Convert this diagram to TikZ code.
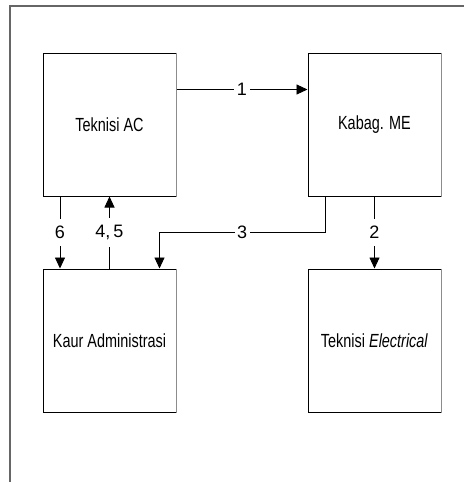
\documentclass[tikz,border=0pt]{standalone}
\usepackage{fontspec}
\setmainfont{Liberation Sans}
\newfontfamily\boxfont[FakeStretch=0.76]{Liberation Sans}
\usetikzlibrary{arrows.meta}
\tikzset{
  box/.style={draw=black, line width=1pt, minimum width=133pt, minimum height=143pt, inner sep=0pt,
    font=\boxfont\fontsize{19}{22}\selectfont},
  arr/.style={draw=black, line width=0.9pt, -{Triangle[length=11pt,width=10pt]}},
  lbl/.style={fill=white, inner xsep=2.5pt, inner ysep=1pt, font=\fontsize{18}{20}\selectfont},
  vlbl/.style={fill=white, inner xsep=1pt, inner ysep=7pt, font=\fontsize{18}{20}\selectfont},
  frame/.style={draw=black!60, line width=1.2pt},
  shade/.style={draw=black!45, line width=1pt}
}
\begin{document}
\begin{tikzpicture}[x=1pt,y=-1pt]
\useasboundingbox (0,0) rectangle (464,482);
\draw[frame] (10,482) -- (10,6) -- (464,6);
\node[box] (ac) at (109.5,124.5) {Teknisi AC};
\node[box] (me) at (374.5,124.5) {Kabag. ME};
\node[box] (ka) at (109.5,340.5) {Kaur Administrasi};
\node[box] (te) at (374.5,340.5) {Teknisi \textit{Electrical}};
\foreach \b in {ac,me,ka,te}{\draw[shade] (\b.north east) -- (\b.south east);}
\coordinate (y3) at (0,232.5);
\coordinate (s3) at ([xshift=-49.5pt]me.south);
\coordinate (k3) at ([xshift=50pt]ka.north);
\draw[arr] ([yshift=35pt]ac.east) -- node[lbl]{1} ([yshift=35pt]me.west);
\draw[arr] ([xshift=-49.5pt]ac.south) -- node[vlbl]{6} ([xshift=-49.5pt]ka.north);
\draw[arr] (ka.north) -- node[vlbl]{4,\,5} (ac.south);
\draw[arr] (s3) -- (s3 |- y3) -- node[lbl]{3} (k3 |- y3) -- (k3);
\draw[arr] (me.south) -- node[vlbl]{2} (te.north);
\end{tikzpicture}
\end{document}
